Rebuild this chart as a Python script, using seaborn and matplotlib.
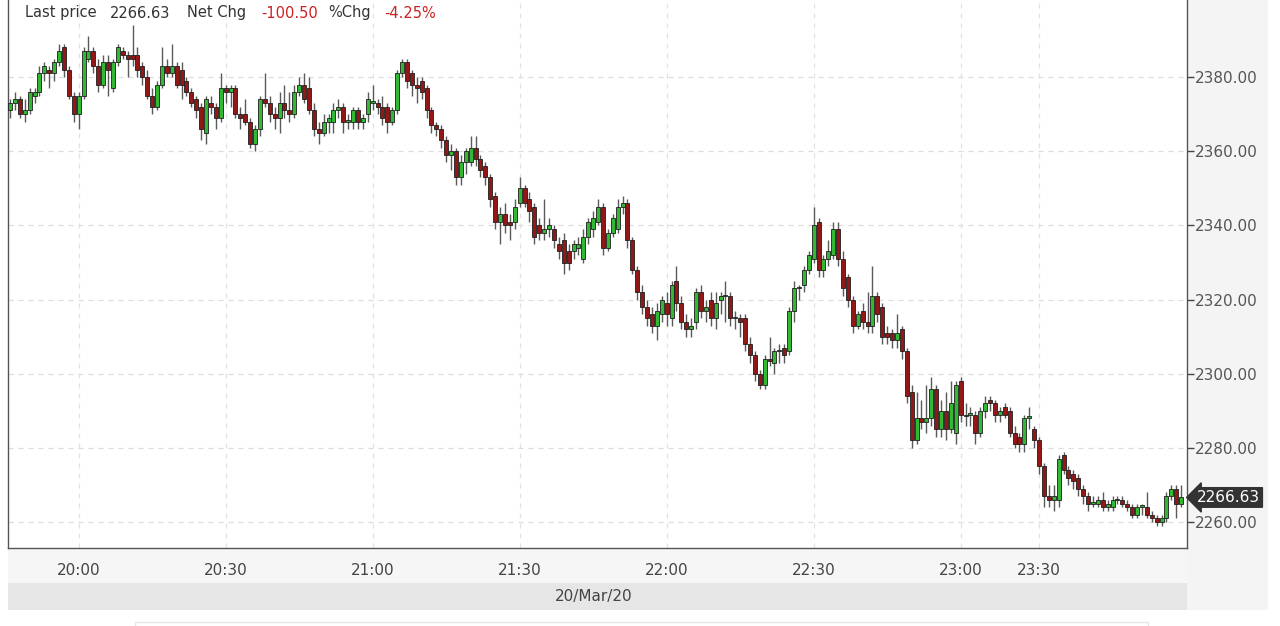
import numpy as np
import pandas as pd
import matplotlib
matplotlib.use("Agg")
import matplotlib.pyplot as plt
import matplotlib.transforms as mtransforms
from matplotlib.patches import Rectangle
import seaborn as sns

# ---------------- data (1-minute candles) ----------------
opens = [2371, 2373, 2374, 2370, 2371, 2375, 2376, 2381, 2382, 2381,
         2384, 2388, 2382, 2375, 2370, 2375, 2385, 2387, 2383, 2378,
         2384, 2377, 2384, 2387, 2386, 2386, 2386, 2383, 2380, 2375,
         2372, 2378, 2383, 2381, 2383, 2382, 2379, 2376, 2374, 2372,
         2365, 2373, 2372, 2369, 2377, 2376, 2377, 2370, 2370, 2368,
         2362, 2366, 2374, 2373, 2370, 2369, 2373, 2371, 2370, 2376,
         2378, 2377, 2371, 2366, 2365, 2368, 2368, 2371, 2372, 2368,
         2368, 2371, 2368, 2370, 2373, 2373, 2372, 2372, 2368, 2371,
         2381, 2384, 2381, 2378, 2379, 2377, 2371, 2367, 2366, 2363,
         2359, 2360, 2353, 2357, 2357, 2361, 2358, 2356, 2353, 2348,
         2341, 2343, 2341, 2341, 2346, 2350, 2347, 2345, 2340, 2338,
         2339, 2339, 2335, 2336, 2333, 2333, 2334, 2331, 2337, 2339,
         2341, 2345, 2334, 2338, 2339, 2345, 2346, 2336, 2328, 2322,
         2318, 2316, 2313, 2316, 2319, 2315, 2325, 2319, 2314, 2312,
         2314, 2322, 2317, 2320, 2315, 2320, 2321, 2321, 2315, 2315,
         2315, 2308, 2305, 2300, 2297, 2304, 2303, 2306, 2307, 2306,
         2317, 2323, 2324, 2328, 2331, 2341, 2328, 2331, 2332, 2339,
         2331, 2326, 2320, 2313, 2317, 2314, 2313, 2321, 2318, 2311,
         2311, 2309, 2312, 2306, 2295, 2282, 2288, 2287, 2288, 2296,
         2285, 2290, 2285, 2284, 2298, 2289, 2289, 2289, 2284, 2290,
         2293, 2292, 2289, 2291, 2290, 2284, 2283, 2281, 2288, 2285,
         2282, 2275, 2267, 2266, 2266, 2278, 2274, 2273, 2272, 2269,
         2267, 2265, 2265, 2266, 2264, 2264, 2266, 2266, 2265, 2264,
         2262, 2264, 2264, 2262, 2261, 2260, 2261, 2267, 2269, 2265]
highs = [2374, 2376, 2375, 2374, 2377, 2377, 2383, 2384, 2383, 2385,
         2389, 2389, 2383, 2376, 2376, 2388, 2391, 2388, 2385, 2386,
         2386, 2385, 2389, 2388, 2387, 2394, 2388, 2384, 2382, 2377,
         2379, 2388, 2385, 2389, 2384, 2384, 2380, 2377, 2375, 2373,
         2375, 2375, 2373, 2381, 2378, 2378, 2378, 2372, 2374, 2369,
         2367, 2375, 2381, 2375, 2372, 2376, 2378, 2376, 2378, 2380,
         2381, 2380, 2373, 2368, 2370, 2370, 2373, 2374, 2373, 2370,
         2372, 2372, 2370, 2376, 2378, 2374, 2375, 2373, 2372, 2382,
         2385, 2385, 2382, 2380, 2380, 2378, 2372, 2368, 2367, 2364,
         2362, 2361, 2359, 2361, 2364, 2364, 2359, 2357, 2354, 2349,
         2345, 2346, 2343, 2347, 2353, 2351, 2349, 2346, 2342, 2347,
         2342, 2340, 2337, 2338, 2335, 2336, 2337, 2339, 2342, 2344,
         2347, 2346, 2339, 2343, 2347, 2348, 2347, 2337, 2329, 2324,
         2320, 2318, 2319, 2321, 2322, 2325, 2329, 2321, 2316, 2315,
         2323, 2324, 2320, 2322, 2322, 2322, 2325, 2322, 2317, 2316,
         2316, 2310, 2306, 2301, 2305, 2310, 2307, 2308, 2308, 2318,
         2325, 2324, 2329, 2333, 2345, 2342, 2332, 2336, 2341, 2341,
         2333, 2327, 2321, 2317, 2319, 2322, 2329, 2322, 2319, 2313,
         2312, 2316, 2313, 2307, 2297, 2295, 2293, 2297, 2299, 2297,
         2293, 2295, 2298, 2298, 2299, 2292, 2291, 2290, 2291, 2294,
         2294, 2293, 2291, 2292, 2291, 2286, 2284, 2289, 2291, 2286,
         2283, 2276, 2270, 2270, 2278, 2279, 2275, 2274, 2273, 2270,
         2268, 2267, 2267, 2268, 2266, 2267, 2267, 2267, 2266, 2265,
         2265, 2265, 2268, 2263, 2262, 2262, 2268, 2270, 2270, 2270]
lows = [2369, 2371, 2369, 2368, 2370, 2373, 2375, 2379, 2377, 2379,
        2383, 2380, 2374, 2368, 2366, 2374, 2384, 2381, 2376, 2377,
        2375, 2376, 2383, 2385, 2380, 2383, 2380, 2378, 2374, 2370,
        2371, 2377, 2380, 2380, 2377, 2374, 2375, 2372, 2369, 2363,
        2362, 2370, 2366, 2368, 2373, 2372, 2369, 2366, 2367, 2361,
        2360, 2364, 2372, 2368, 2366, 2365, 2369, 2368, 2369, 2375,
        2373, 2370, 2364, 2362, 2364, 2365, 2365, 2369, 2365, 2366,
        2366, 2366, 2366, 2368, 2371, 2370, 2367, 2365, 2367, 2370,
        2380, 2377, 2375, 2373, 2374, 2369, 2365, 2364, 2361, 2357,
        2355, 2351, 2351, 2354, 2356, 2356, 2353, 2351, 2345, 2339,
        2335, 2338, 2336, 2339, 2345, 2345, 2341, 2335, 2336, 2336,
        2337, 2334, 2331, 2327, 2328, 2331, 2332, 2330, 2335, 2337,
        2340, 2332, 2333, 2337, 2338, 2343, 2334, 2327, 2320, 2316,
        2313, 2311, 2309, 2314, 2313, 2313, 2317, 2312, 2310, 2310,
        2312, 2315, 2314, 2313, 2312, 2316, 2314, 2313, 2312, 2310,
        2306, 2303, 2298, 2296, 2296, 2302, 2300, 2303, 2303, 2305,
        2314, 2320, 2322, 2327, 2330, 2326, 2326, 2329, 2331, 2329,
        2321, 2318, 2311, 2312, 2312, 2311, 2311, 2314, 2308, 2308,
        2307, 2307, 2304, 2292, 2280, 2281, 2285, 2284, 2286, 2283,
        2283, 2282, 2284, 2281, 2287, 2286, 2286, 2281, 2283, 2288,
        2290, 2287, 2287, 2288, 2283, 2280, 2279, 2279, 2285, 2280,
        2273, 2264, 2264, 2263, 2264, 2273, 2270, 2269, 2267, 2265,
        2263, 2264, 2264, 2263, 2263, 2263, 2265, 2264, 2263, 2261,
        2261, 2262, 2261, 2260, 2259, 2259, 2260, 2266, 2261, 2264]
closes = [2373, 2374, 2370, 2371, 2376, 2376, 2381, 2383, 2381, 2384,
          2387, 2382, 2375, 2370, 2375, 2387, 2387, 2383, 2378, 2384,
          2382, 2384, 2388, 2386, 2385, 2385, 2382, 2380, 2375, 2372,
          2378, 2383, 2381, 2383, 2378, 2378, 2376, 2373, 2371, 2366,
          2374, 2372, 2369, 2377, 2376, 2377, 2370, 2369, 2368, 2362,
          2366, 2374, 2373, 2370, 2369, 2373, 2371, 2370, 2376, 2378,
          2374, 2371, 2366, 2365, 2368, 2369, 2371, 2372, 2368, 2368.5,
          2371, 2368, 2369, 2374, 2373.5, 2372, 2369, 2368, 2371, 2381,
          2384, 2379, 2378, 2377, 2376, 2371, 2367, 2366, 2363, 2359,
          2360, 2353, 2357, 2360, 2361, 2358, 2355, 2353, 2347, 2341,
          2343, 2340, 2340, 2345, 2350, 2346, 2344, 2337, 2338, 2339,
          2340, 2336, 2333, 2330, 2330, 2335, 2335, 2337, 2341, 2342,
          2345, 2334, 2338, 2342, 2345, 2346, 2336, 2328, 2322, 2318,
          2315, 2313, 2317, 2320, 2316, 2324, 2319, 2314, 2312, 2313,
          2322, 2317, 2318, 2315, 2319, 2321, 2321, 2315, 2315, 2314,
          2308, 2305, 2300, 2297, 2304, 2303.5, 2306, 2306, 2305, 2317,
          2323, 2323.5, 2328, 2332, 2340, 2328, 2331, 2333, 2339, 2331,
          2323, 2320, 2313, 2316, 2314, 2313, 2321, 2316, 2310, 2310,
          2309, 2311, 2306, 2294, 2282, 2288, 2287, 2288, 2296, 2285,
          2290, 2285, 2292, 2297, 2289, 2288.5, 2289, 2284, 2290, 2292,
          2292, 2289, 2290, 2289, 2284, 2281, 2281, 2288, 2288.5, 2282,
          2275, 2267, 2266, 2267, 2277, 2274, 2272, 2271, 2269, 2267,
          2265, 2265.5, 2266, 2264, 2265, 2266, 2266, 2265, 2264, 2262,
          2264, 2264.5, 2262, 2261, 2260, 2261, 2267, 2269, 2265, 2266.63]

time_labels = ["20:00", "20:30", "21:00", "21:30", "22:00", "22:30", "23:00", "23:30"]
time_label_index = [14, 44, 74, 104, 134, 164, 194, 210]
price_ticks = [2260, 2280, 2300, 2320, 2340, 2360, 2380]
date_label = "20/Mar/20"
last_price = 2266.63
net_chg = -100.50
pct_chg = -4.25

# ---------------- style ----------------
sns.set_theme(style="white")
plt.rcParams["font.family"] = ["DejaVu Sans"]

W, H = 1280, 626
fig = plt.figure(figsize=(W / 100, H / 100), dpi=100, facecolor="white")


def fx(px):
    return px / W


def fy(py):
    return 1 - py / H


# grey panels around the plot (drawn beneath the axes)
panels = [
    ((8, 548, 1187, 583), "#f6f6f6", "none"),
    ((8, 583, 1187, 610), "#e6e6e6", "none"),
    ((1187, 0, 1268, 610), "#f4f4f4", "none"),
]
for (x0, y0, x1, y1), fc, ec in panels:
    fig.patches.append(Rectangle((fx(x0), fy(y1)), fx(x1) - fx(x0), fy(y0) - fy(y1),
                                 transform=fig.transFigure, facecolor=fc, edgecolor=ec, zorder=-5))
fig.patches.append(Rectangle((fx(135), fy(640)), fx(1148) - fx(135), fy(622) - fy(640),
                             transform=fig.transFigure, facecolor="none", edgecolor="#e6e6e6",
                             linewidth=1, zorder=-5))

ax = fig.add_axes([fx(8), fy(548), fx(1187) - fx(8), fy(0) - fy(548)])
ax.set_facecolor("white")

df = pd.DataFrame({"i": np.arange(len(closes)), "open": opens, "high": highs,
                   "low": lows, "close": closes})
df["up"] = df["close"] >= df["open"]
df["bottom"] = df[["open", "close"]].min(axis=1)
df["height"] = (df["close"] - df["open"]).abs().clip(lower=0.3)

green = "#33b833"
red = "#921818"

# wicks
ax.vlines(df["i"], df["low"], df["high"], color="#5a5a5a", linewidth=1.0, zorder=2)
# bodies
ax.bar(df["i"], df["height"], bottom=df["bottom"], width=0.82,
       color=np.where(df["up"], green, red), edgecolor="#1e1e1e", linewidth=0.6, zorder=3)

ax.set_xlim(-0.41, 240.2)
ax.set_ylim(2253.0, 2400.8)

# grid
for v in price_ticks:
    ax.axhline(v, color="#dddddd", linewidth=0.9, linestyle=(0, (4, 4)), zorder=1)
for v in time_label_index:
    ax.axvline(v, color="#e2e2e2", linewidth=0.9, linestyle=(0, (4, 4)), zorder=1)

# axes
ax.yaxis.tick_right()
ax.set_yticks(price_ticks)
ax.set_yticklabels([f"{v:.2f}" for v in price_ticks])
ax.tick_params(axis="y", direction="out", length=5, width=1, color="#444444",
               labelcolor="#555555", labelsize=11, pad=1, right=True, left=False)
ax.set_xticks(time_label_index)
ax.set_xticklabels(time_labels)
ax.tick_params(axis="x", length=0, labelcolor="#444444", labelsize=11, pad=11)
for s in ["left", "bottom", "right"]:
    ax.spines[s].set_visible(True)
    ax.spines[s].set_color("#555555")
    ax.spines[s].set_linewidth(1.0)
ax.spines["top"].set_visible(False)

# date label
fig.text(fx(594), fy(597), date_label, ha="center", va="center", fontsize=11, color="#444444")

# last price tag
trans = mtransforms.blended_transform_factory(ax.transAxes, ax.transData)
ax.text(1.0 + 10 / 1179, last_price, f"{last_price:.2f}", transform=trans, ha="left", va="center",
        fontsize=11, color="white", clip_on=False, zorder=5,
        bbox=dict(boxstyle="larrow,pad=0.15", facecolor="#333333", edgecolor="#333333"))

# header text
parts = [("Last price", "#333333", 25), (f"{last_price:.2f}", "#333333", 110),
         ("Net Chg", "#333333", 187), (f"{net_chg:.2f}", "#cc2222", 261),
         ("%Chg", "#333333", 328), (f"{pct_chg:.2f}%", "#cc2222", 384)]
for txt, col, px in parts:
    fig.text(fx(px), fy(13), txt, ha="left", va="center", fontsize=10.5, color=col)

fig.savefig("out.png", dpi=100, facecolor="white")
